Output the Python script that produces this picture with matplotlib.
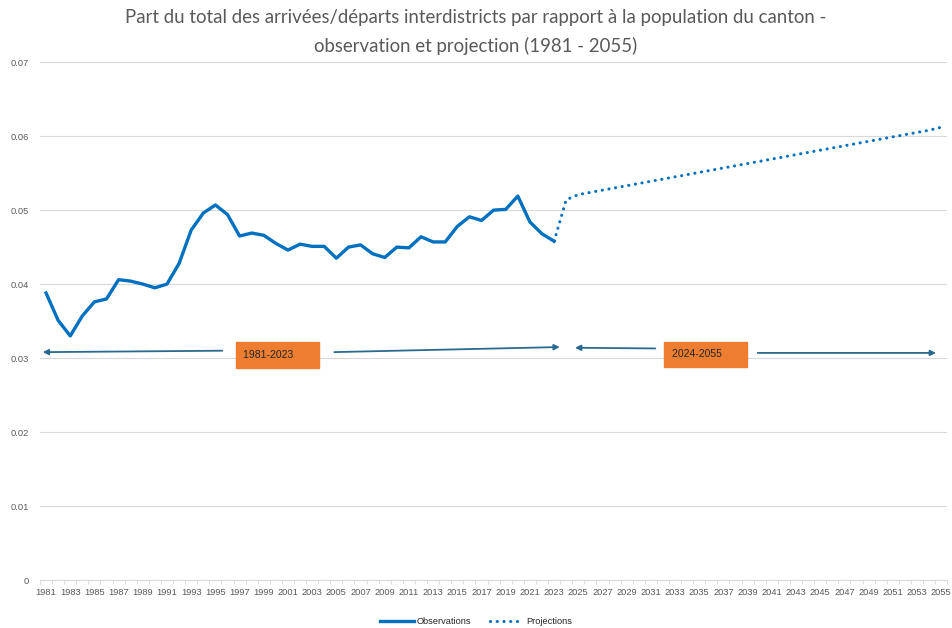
import numpy as np
import matplotlib
matplotlib.use("Agg")
from matplotlib import pyplot as plt

# observations 1981-2023
obs_years = list(range(1981, 2024))
obs_values = [0.0388, 0.0351, 0.0330, 0.0357, 0.0376, 0.0380, 0.0406, 0.0404, 0.0400, 0.0395,
              0.0400, 0.0428, 0.0473, 0.0496, 0.0507, 0.0494, 0.0465, 0.0469, 0.0466, 0.0455,
              0.0446, 0.0454, 0.0451, 0.0451, 0.0435, 0.0450, 0.0453, 0.0441, 0.0436, 0.0450,
              0.0449, 0.0464, 0.0457, 0.0457, 0.0478, 0.0491, 0.0486, 0.0500, 0.0501, 0.0519,
              0.0484, 0.0468, 0.0458]

# projections 2023-2055 (starts at last observation)
proj_years = list(range(2023, 2056))
proj_values = [0.0458, 0.0514, 0.0521, 0.0524, 0.0527, 0.0530, 0.0533, 0.0536, 0.0539, 0.0542,
               0.0545, 0.0548, 0.0551, 0.0554, 0.0557, 0.0560, 0.0563, 0.0566, 0.0569, 0.0572,
               0.0575, 0.0578, 0.0581, 0.0584, 0.0587, 0.0590, 0.0593, 0.0596, 0.0599, 0.0602,
               0.0605, 0.0608, 0.0612]

title = ("Part du total des arrivées/départs interdistricts par rapport à la population du canton -\n"
         "observation et projection (1981 - 2055)")

plt.rcParams['font.family'] = ['Liberation Sans', 'DejaVu Sans']
grey = "#595959"
blue = "#0070C0"
arrow_col = "#2A6A8E"
orange = "#ED7D31"

fig = plt.figure(figsize=(9.52, 6.28), dpi=100)
ax = fig.add_axes([0.042, 0.0764, 0.953, 0.8246])

ax.plot(obs_years, obs_values, color=blue, lw=2.4, solid_joinstyle='round', label="Observations")
ax.plot(proj_years, proj_values, color=blue, lw=2.2, linestyle=(0, (0.05, 2.15)),
        dash_capstyle='round', label="Projections")

ax.set_xlim(1980.5, 2055.5)
ax.set_ylim(0, 0.07)
ax.set_yticks(np.arange(0, 0.071, 0.01))
ax.set_yticklabels(["0"] + ["%.2f" % v for v in np.arange(0.01, 0.071, 0.01)])
ax.set_xticks(range(1981, 2056, 2))
ax.set_xticks(np.arange(1980.5, 2056, 1), minor=True)
ax.tick_params(axis='x', which='major', length=0, labelsize=6.7, labelcolor=grey, pad=6)
ax.tick_params(axis='x', which='minor', length=3, color="#D9D9D9")
ax.tick_params(axis='y', length=0, labelsize=6.7, labelcolor=grey, pad=8)
ax.grid(axis='y', color="#D9D9D9", lw=0.8)
ax.set_axisbelow(True)
for s in ["top", "right", "left"]:
    ax.spines[s].set_visible(False)
ax.spines["bottom"].set_color("#D9D9D9")

fig.text(0.5, 0.985, title, ha='center', va='top', fontsize=13.4, color=grey,
         linespacing=1.68, family=['Lato', 'DejaVu Sans'])

# period arrows and labels
arr = dict(arrowstyle='-|>', color=arrow_col, lw=1.3, mutation_scale=8)
ax.annotate("", xy=(1980.5, 0.0308), xytext=(1995.8, 0.0310), arrowprops=arr)
ax.annotate("", xy=(2023.7, 0.0315), xytext=(2004.6, 0.0308), arrowprops=arr)
ax.annotate("", xy=(2024.5, 0.0314), xytext=(2031.6, 0.0313), arrowprops=arr)
ax.annotate("", xy=(2054.8, 0.0307), xytext=(2039.6, 0.0307), arrowprops=arr)

box = dict(boxstyle='square,pad=0.75', fc=orange, ec=orange)
ax.text(2000.1, 0.03045, "1981-2023      ", ha='center', va='center', fontsize=7.5,
        color="#262626", bbox=box)
ax.text(2035.5, 0.0305, "2024-2055      ", ha='center', va='center', fontsize=7.5,
        color="#262626", bbox=box)

leg = fig.legend(loc='lower center', bbox_to_anchor=(0.5, -0.01), ncol=2, frameon=False,
                 fontsize=6.7, handlelength=3.6, handletextpad=0.3, columnspacing=2.0)
for t in leg.get_texts():
    t.set_color("#262626")

fig.savefig("out.png", dpi=100)
